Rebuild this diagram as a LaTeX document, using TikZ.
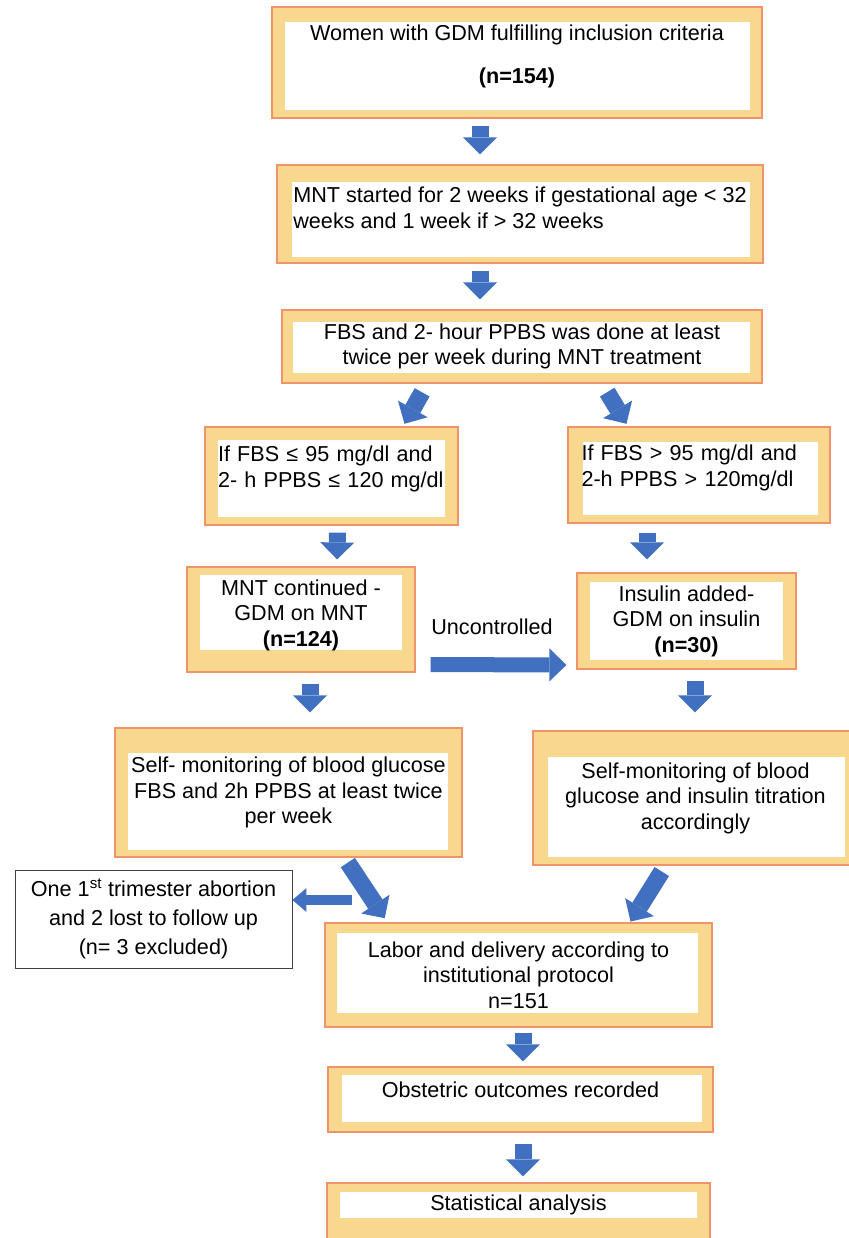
\documentclass[tikz,border=0pt]{standalone}
\usepackage{fontspec}
\setmainfont{Liberation Sans}
\usetikzlibrary{arrows.meta}
\definecolor{GDMFill}{HTML}{F8D88E}
\definecolor{GDMEdge}{HTML}{F0926A}
\definecolor{GDMBlue}{HTML}{4070BF}
\definecolor{GDMGrey}{HTML}{404040}
\newcommand{\flowfont}{\fontsize{21.6}{25.5}\selectfont}
\newcommand{\boxlift}[1]{\rule[-#1]{0pt}{#1}}
\tikzset{
  whitepane/.style n args={4}{path picture={\fill[white] ([xshift=#1,yshift=-#2]path picture bounding box.north west) rectangle ([xshift=-#3,yshift=#4]path picture bounding box.south east);}},
  flowbox/.style={draw=GDMEdge, fill=GDMFill, line width=1.2pt, inner sep=0pt, align=center, font=\flowfont},
  notebox/.style={draw=GDMGrey, fill=white, line width=0.9pt, inner sep=0pt, align=center, font=\flowfont},
  blockarrow/.style={draw=GDMBlue, line width=17pt, -{Triangle[width=34pt,length=17pt,line width=0pt]}},
}

\begin{document}
\begin{tikzpicture}[x=1pt,y=-1pt]
\path[use as bounding box] (0,0) rectangle (848,1238);
\fill[white] (0,0) rectangle (848,1238);

% main column
\node[flowbox, minimum width=490pt, minimum height=111pt, whitepane={13pt}{15pt}{12pt}{8pt}] (start) at (517,62.5) {Women with GDM fulfilling inclusion criteria\\[18pt]\textbf{(n=154)}\boxlift{16.5pt}};
\node[flowbox, minimum width=486pt, minimum height=98pt, align=left, whitepane={15pt}{17pt}{13pt}{6pt}] (mnt) at (520,214) {MNT started for 2 weeks if gestational age < 32\\weeks and 1 week if > 32 weeks\boxlift{13pt}};
\node[flowbox, minimum width=480pt, minimum height=73pt, whitepane={11pt}{12pt}{12pt}{10pt}] (fbs) at (522,346.5) {FBS and 2- hour PPBS was done at least\\twice per week during MNT treatment};

% two branches
\node[flowbox, minimum width=253pt, minimum height=98pt, align=left, text width=227pt, whitepane={13pt}{13pt}{13pt}{8pt}] (low) at (331.5,476) {If FBS ≤ 95 mg/dl and\\2- h PPBS ≤ 120 mg/dl\boxlift{19pt}};
\node[flowbox, minimum width=262pt, minimum height=96pt, align=left, text width=235pt, whitepane={15pt}{15pt}{12pt}{8pt}] (high) at (699,475) {If FBS > 95 mg/dl and\\2-h PPBS > 120mg/dl\boxlift{19pt}};
\node[flowbox, minimum width=228pt, minimum height=105pt, whitepane={13pt}{8pt}{13pt}{22pt}] (mntc) at (301,619.5) {MNT continued -\\GDM on MNT\\\textbf{(n=124)}\boxlift{13.5pt}};
\node[flowbox, minimum width=219pt, minimum height=96pt, whitepane={13pt}{9pt}{13pt}{9pt}] (ins) at (686.5,621) {Insulin added-\\GDM on insulin\\\textbf{(n=30)}};
\node[flowbox, minimum width=347pt, minimum height=129pt, whitepane={13pt}{25pt}{14pt}{7pt}] (smbg) at (288.5,792.5) {Self- monitoring of blood glucose\\FBS and 2h PPBS at least twice\\per week};
\node[flowbox, minimum width=325pt, minimum height=134pt, whitepane={15pt}{26pt}{13pt}{8pt}] (smi) at (695.5,798) {Self-monitoring of blood\\glucose and insulin titration\\accordingly};

% exclusions and end
\node[notebox, minimum width=277pt, minimum height=98pt] (excl) at (153.5,919) {One 1\textsuperscript{st} trimester abortion\\[3.5pt]and 2 lost to follow up\\[3.5pt](n= 3 excluded)};
\node[flowbox, minimum width=387pt, minimum height=104pt, whitepane={12pt}{10pt}{14pt}{14pt}] (labor) at (518.5,975) {Labor and delivery according to\\institutional protocol\\n=151};
\node[flowbox, minimum width=385pt, minimum height=65pt, whitepane={14pt}{8pt}{11pt}{10pt}] (obst) at (520.5,1099.5) {Obstetric outcomes recorded\boxlift{19pt}};
\node[flowbox, minimum width=383pt, minimum height=67pt, whitepane={13pt}{9pt}{13pt}{32pt}] (stat) at (518.5,1216.5) {Statistical analysis\boxlift{27.5pt}};

% arrows
\draw[blockarrow, shorten <=7pt, shorten >=10pt] ([xshift=-37pt]start.south) -- ([xshift=-40pt]mnt.north);
\draw[blockarrow, shorten <=7pt, shorten >=10pt] ([xshift=-40pt]mnt.south) -- ([xshift=-42pt]fbs.north);
\draw[blockarrow, shorten <=10pt, shorten >=3pt] ([xshift=-95pt]fbs.south) -- ([xshift=71.5pt]low.north);
\draw[blockarrow, shorten <=10pt, shorten >=3pt] ([xshift=80pt]fbs.south) -- ([xshift=-71pt]high.north);
\draw[blockarrow, shorten <=7pt, shorten >=7pt] ([xshift=6pt]low.south) -- ([xshift=36pt]mntc.north);
\draw[blockarrow, shorten <=9pt, shorten >=13pt] ([xshift=-52pt]high.south) -- ([xshift=-39.5pt]ins.north);
\draw[blockarrow, line width=15pt, -{Triangle[width=33pt,length=17pt,line width=0pt]}, shorten <=15pt, shorten >=10pt] ([yshift=-45pt]mntc.east) -- ([yshift=-44pt]ins.west)
  node[pos=0.475, above=19pt, font=\flowfont, text=black] (unc) {Uncontrolled};
\draw[blockarrow, shorten <=11pt, shorten >=15pt] ([xshift=9pt]mntc.south) -- ([xshift=21.5pt]smbg.north);
\draw[blockarrow, shorten <=11pt, shorten >=18pt] ([xshift=8.5pt]ins.south) -- ([xshift=-0.5pt]smi.north);
\draw[blockarrow, shorten <=6pt, shorten >=5pt] ([xshift=56pt]smbg.south) -- ([xshift=-131pt]labor.north);
\draw[blockarrow, shorten <=7pt, shorten >=1pt] ([xshift=-30pt]smi.south) -- ([xshift=111.5pt]labor.north);
\coordinate (exclsplit) at (352,900);
\draw[blockarrow, line width=10pt, -{Triangle[width=24pt,length=14pt,line width=0pt]}] (exclsplit) -- ([yshift=19pt]excl.east);
\draw[blockarrow, shorten <=5pt, shorten >=5pt] ([xshift=4.5pt]labor.south) -- ([xshift=2.5pt]obst.north);
\draw[blockarrow, shorten <=11pt, shorten >=6pt] ([xshift=2.5pt]obst.south) -- ([xshift=4.5pt]stat.north);
\end{tikzpicture}
\end{document}
